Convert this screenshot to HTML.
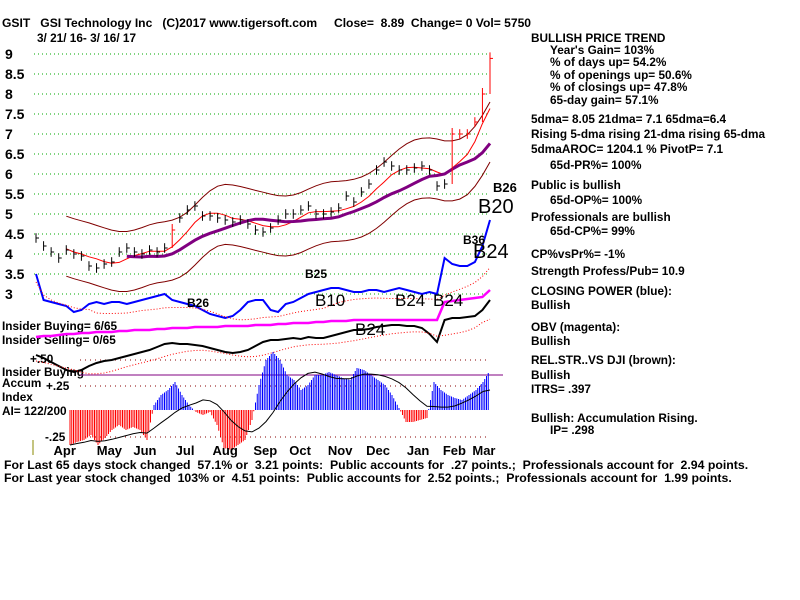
<!DOCTYPE html>
<html><head><meta charset="utf-8"><style>
body{margin:0;background:#fff}
svg{display:block;font-family:"Liberation Sans",sans-serif;font-weight:bold}
</style></head><body>
<svg id="c" width="800" height="600" viewBox="0 0 800 600">
<g id="txt" font-size="11.8" fill="#000">
<text x="2" y="27" font-size="12.1" xml:space="preserve">GSIT   GSI Technology Inc   (C)2017 www.tigersoft.com     Close=  8.89  Change= 0 Vol= 5750</text>
<text x="37" y="42">3/ 21/ 16- 3/ 16/ 17</text>
<g>
<text x="531" y="42">BULLISH PRICE TREND</text>
<text x="550" y="54">Year's Gain= 103%</text>
<text x="550" y="66">% of days up= 54.2%</text>
<text x="550" y="79">% of openings up= 50.6%</text>
<text x="550" y="91">% of closings up= 47.8%</text>
<text x="550" y="104">65-day gain= 57.1%</text>
<text x="531" y="123">5dma= 8.05 21dma= 7.1 65dma=6.4</text>
<text x="531" y="138">Rising 5-dma rising 21-dma rising 65-dma</text>
<text x="531" y="153">5dmaAROC= 1204.1 %  PivotP= 7.1</text>
<text x="550" y="169">65d-PR%= 100%</text>
<text x="531" y="189">Public is bullish</text>
<text x="550" y="204">65d-OP%= 100%</text>
<text x="531" y="221">Professionals are bullish</text>
<text x="550" y="235">65d-CP%= 99%</text>
<text x="531" y="258">CP%vsPr%= -1%</text>
<text x="531" y="275">Strength Profess/Pub= 10.9</text>
<text x="531" y="295">CLOSING POWER (blue):</text>
<text x="531" y="309">Bullish</text>
<text x="531" y="331">OBV (magenta):</text>
<text x="531" y="345">Bullish</text>
<text x="531" y="364">REL.STR..VS DJI (brown):</text>
<text x="531" y="379">Bullish</text>
<text x="531" y="393">ITRS= .397</text>
<text x="531" y="422">Bullish: Accumulation Rising.</text>
<text x="550" y="434">IP=  .298</text>
</g>
<text x="4" y="469" font-size="12.3" xml:space="preserve">For Last 65 days stock changed  57.1% or  3.21 points:  Public accounts for  .27 points.;  Professionals account for  2.94 points.</text>
<text x="4" y="482" font-size="12.3" xml:space="preserve">For Last year stock changed  103% or  4.51 points:  Public accounts for  2.52 points.;  Professionals account for  1.99 points.</text>
<text x="2" y="330">Insider Buying= 6/65</text>
<text x="2" y="344">Insider Selling= 0/65</text>
<text x="30" y="363">+.50</text>
<text x="2" y="376">Insider Buying</text>
<text x="2" y="387">Accum</text>
<text x="46" y="390">+.25</text>
<text x="2" y="401">Index</text>
<text x="2" y="415">AI= 122/200</text>
<text x="45" y="441">-.25</text>
</g>
<g id="g"></g>
</svg>
<script>
const yTicks=[9,8.5,8,7.5,7,6.5,6,5.5,5,4.5,4,3.5,3];
const yTickLabels=["9","8.5","8","7.5","7","6.5","6","5.5","5","4.5","4","3.5","3"];
const months=["Apr","May","Jun","Jul","Aug","Sep","Oct","Nov","Dec","Jan","Feb","Mar"];
const monthIdx=[3.8,9.7,14.4,19.7,25,30.3,34.9,40.2,45.2,50.5,55.3,59.2];
const closes=[4.4,4.2,4.05,3.9,4.1,4.0,3.95,3.7,3.65,3.75,3.8,4.05,4.15,4.05,4.0,4.1,4.05,4.15,4.6,4.9,5.1,5.2,4.95,4.95,4.9,4.85,4.8,4.85,4.75,4.6,4.55,4.65,4.85,5.0,5.0,5.1,5.2,5.0,5.0,5.05,5.15,5.45,5.3,5.55,5.75,6.1,6.3,6.2,6.1,6.1,6.15,6.2,6.1,5.7,5.75,7.0,7.0,7.0,7.3,8.0,8.89];
const closingPower=[3.5,2.85,2.8,2.75,2.7,2.55,2.6,2.75,2.8,2.75,2.8,2.8,2.75,2.8,2.85,2.9,2.95,3.0,2.85,2.8,2.75,2.7,2.6,2.5,2.45,2.4,2.45,2.6,2.8,2.85,2.85,2.6,2.55,2.75,2.8,2.9,3.0,3.05,3.1,3.15,3.15,3.1,3.05,3.05,3.1,3.1,3.05,3.1,3.15,3.1,3.05,3.0,3.05,3.0,3.9,3.75,3.7,3.7,3.8,4.2,4.85];
const obv=[337,336,336,335,334,334,333,333,332,332,332,331,331,330,330,330,329,329,328,328,328,327,327,327,327,326,326,326,326,325,325,325,324,324,323,323,323,322,322,321,321,321,320,320,320,320,320,320,320,320,320,320,320,320,302,301,300,299,298,297,290];
const relStr=[355,358,362,366,370,372,370,366,363,361,360,358,356,354,352,350,347,344,343,344,344,345,346,348,350,352,353,352,350,346,342,340,340,339,338,339,337,338,338,336,334,332,330,330,329,327,326,325,325,326,326,328,334,342,320,318,318,317,316,310,300];
const accum=[-0.35,-0.32,-0.3,-0.25,-0.35,-0.28,-0.2,-0.15,-0.2,-0.17,-0.2,-0.3,0.05,0.15,0.2,0.28,0.15,0.05,-0.02,-0.05,-0.02,-0.15,-0.38,-0.4,-0.35,-0.3,-0.1,0.25,0.5,0.58,0.5,0.35,0.3,0.2,0.25,0.35,0.35,0.38,0.35,0.32,0.3,0.42,0.4,0.35,0.3,0.25,0.15,0.02,-0.12,-0.12,-0.1,-0.08,0.28,0.2,0.15,0.12,0.1,0.15,0.2,0.28,0.4];
const NS="http://www.w3.org/2000/svg";
const G=document.getElementById('g');
function el(t,a){const e=document.createElementNS(NS,t);for(const k in a)e.setAttribute(k,a[k]);G.appendChild(e);return e;}
const X0=36,X1=490;
const xi=i=>X0+i*(X1-X0)/(closes.length-1);
const yp=p=>54+(9-p)*40;
const ya=v=>410-v*100;
function pts(arr,fy,start){start=start||0;return arr.slice(start).map((v,i)=>xi(i+start).toFixed(1)+','+fy(v).toFixed(1)).join(' ');}
function ma(arr,n){return arr.map((v,i)=>{const s=arr.slice(Math.max(0,i-n+1),i+1);return s.reduce((a,b)=>a+b,0)/s.length;});}
yTicks.forEach((t,i)=>{
 let l=el('line',{x1:34,x2:490,y1:yp(t),y2:yp(t),stroke:'#0a0','stroke-dasharray':'1,3'});
 
 let tx=el('text',{x:5,y:yp(t)+5,'font-size':14,fill:'#000'});tx.textContent=yTickLabels[i];
 
});
[360,386,437].forEach(y=>el('line',{x1:80,x2:490,y1:y,y2:y,stroke:'#800','stroke-dasharray':'1,4'}));
let pl=el('line',{x1:80,x2:503,y1:375,y2:375,stroke:'#800080','stroke-width':1});

el('line',{x1:33,x2:33,y1:440,y2:455,stroke:'#880','stroke-width':1});
const m21=ma(closes,5),m65=ma(closes,12);
const upper=ma(m21.map(v=>v+0.75),4),lower=ma(m21.map(v=>v-0.75),4);
[[upper,'#800000',1,'upper-band',4],[lower,'#800000',1,'lower-band',4],[m21,'#f00',1,'ma-21',4],[m65,'#800080',3,'ma-65',12]].forEach(([a,c,w,n,s0])=>{
 const s=el('polyline',{points:pts(a,yp,s0),fill:'none',stroke:c,'stroke-width':w});
 
});
closes.forEach((c,i)=>{
 const up=i>0&&c-closes[i-1]>0.4;const col=up||i>=55?'#f00':'#000';
 const h=up?c+0.15:c+0.12,l=up?closes[i-1]:c-0.12;
 const b=el('line',{x1:xi(i),x2:xi(i),y1:yp(h),y2:yp(l),stroke:col,'stroke-width':1});
 
 el('line',{x1:xi(i),x2:xi(i)+3,y1:yp(c),y2:yp(c),stroke:col});
});
let cp=el('polyline',{points:pts(closingPower,yp),fill:'none',stroke:'#00f','stroke-width':2});

el('polyline',{points:pts(ma(closingPower,8),v=>yp(v)+8),fill:'none',stroke:'#f00','stroke-dasharray':'1,2'});
let ob=el('polyline',{points:pts(obv,v=>v),fill:'none',stroke:'#f0f','stroke-width':2.5});

let rs=el('polyline',{points:pts(relStr,v=>v),fill:'none',stroke:'#000','stroke-width':2});

el('polyline',{points:pts(ma(relStr,6),v=>v+6),fill:'none',stroke:'#f00','stroke-dasharray':'1,2'});
const AX0=70;const ax=i=>AX0+i*(X1-AX0)/(accum.length-1);
const sub=4;
for(let i=0;i<accum.length-1;i++){for(let k=0;k<sub;k++){
 const v=accum[i]+(accum[i+1]-accum[i])*k/sub;const x=ax(i)+k*(ax(i+1)-ax(i))/sub;
 const b=el('line',{x1:x,x2:x,y1:ya(0),y2:ya(v),stroke:v>=0?'#00f':'#f00','stroke-width':1});
 
}}
const am=ma(accum,8);
el('polyline',{points:accum.map((v,i)=>ax(i).toFixed(1)+','+ya(am[i]).toFixed(1)).join(' '),fill:'none',stroke:'#000','stroke-width':1});
months.forEach((m,i)=>{const t=el('text',{x:xi(monthIdx[i]),y:455,'font-size':13,'text-anchor':'middle',fill:'#000'});t.textContent=m;
 });
[["B24",473,258,20],["B20",478,213,20],["B26",493,192,13],["B24",355,335,17],["B10",315,306,17],["B24",395,306,17],["B24",433,306,17],["B25",305,278,12],["B26",187,307,12],["B36",463,244,12]].forEach(([s,x,y,f])=>{
 const t=el('text',{x:x,y:y,'font-size':f,fill:'#000','font-weight':f>14?'normal':'bold'});t.textContent=s;
 });
</script>
</body></html>
